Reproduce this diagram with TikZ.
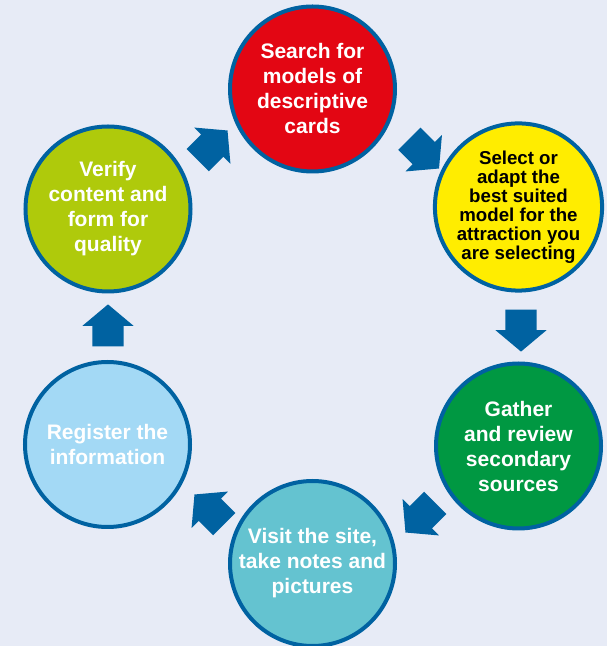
\documentclass[tikz,border=0pt]{standalone}
\usepackage{fontspec}
\setsansfont{Liberation Sans}
\usetikzlibrary{shapes.arrows}
\definecolor{bgblue}{RGB}{231,235,246}
\definecolor{ringblue}{RGB}{0,98,161}
\definecolor{cardred}{RGB}{227,6,19}
\definecolor{cardyellow}{RGB}{255,237,0}
\definecolor{cardgreen}{RGB}{0,152,66}
\definecolor{cardteal}{RGB}{100,195,208}
\definecolor{cardsky}{RGB}{163,217,245}
\definecolor{cardlime}{RGB}{175,202,11}
\begin{document}
\begin{tikzpicture}[x=0.75pt,y=0.75pt,
  stage/.style={circle,draw=ringblue,line width=3pt,minimum size=123.75pt,inner sep=0pt,align=center,text=white,
    font=\sffamily\bfseries\fontsize{15.75pt}{18.75pt}\selectfont},
  flow/.style={single arrow,fill=ringblue,minimum height=31.5pt,inner xsep=0pt,inner ysep=11.6pt,
    single arrow head extend=7.5pt,single arrow tip angle=100}]
\fill[bgblue](0,0)rectangle(607,646);
\useasboundingbox(0,0)rectangle(607,646);
\node[stage,fill=cardred](search)at(312.5,557){Search for\\models of\\descriptive\\cards};
\node[stage,fill=cardyellow,text=black,font=\sffamily\bfseries\fontsize{14pt}{14.25pt}\selectfont](select)at(518.5,439)
  {Select or\\adapt the\\best suited\\model for the\\attraction you\\are selecting};
\node[stage,fill=cardgreen](gather)at(518.5,200){Gather\\and review\\secondary\\sources};
\node[stage,fill=cardteal](visit)at(312.5,82.5){Visit the site,\\take notes and\\pictures};
\node[stage,fill=cardsky](register)at(107.5,201.5){Register the\\information};
\node[stage,fill=cardlime](verify)at(108,437){Verify\\content and\\form for\\quality};
\node[flow,rotate=45](a1)at(208,496){};
\node[flow,rotate=-45](a2)at(419.5,497){};
\node[flow,rotate=-90](a3)at(521,322){};
\node[flow,rotate=-135](a4)at(425,133){};
\node[flow,rotate=135](a5)at(214,132){};
\node[flow,rotate=90](a6)at(108,314){};
\end{tikzpicture}
\end{document}
